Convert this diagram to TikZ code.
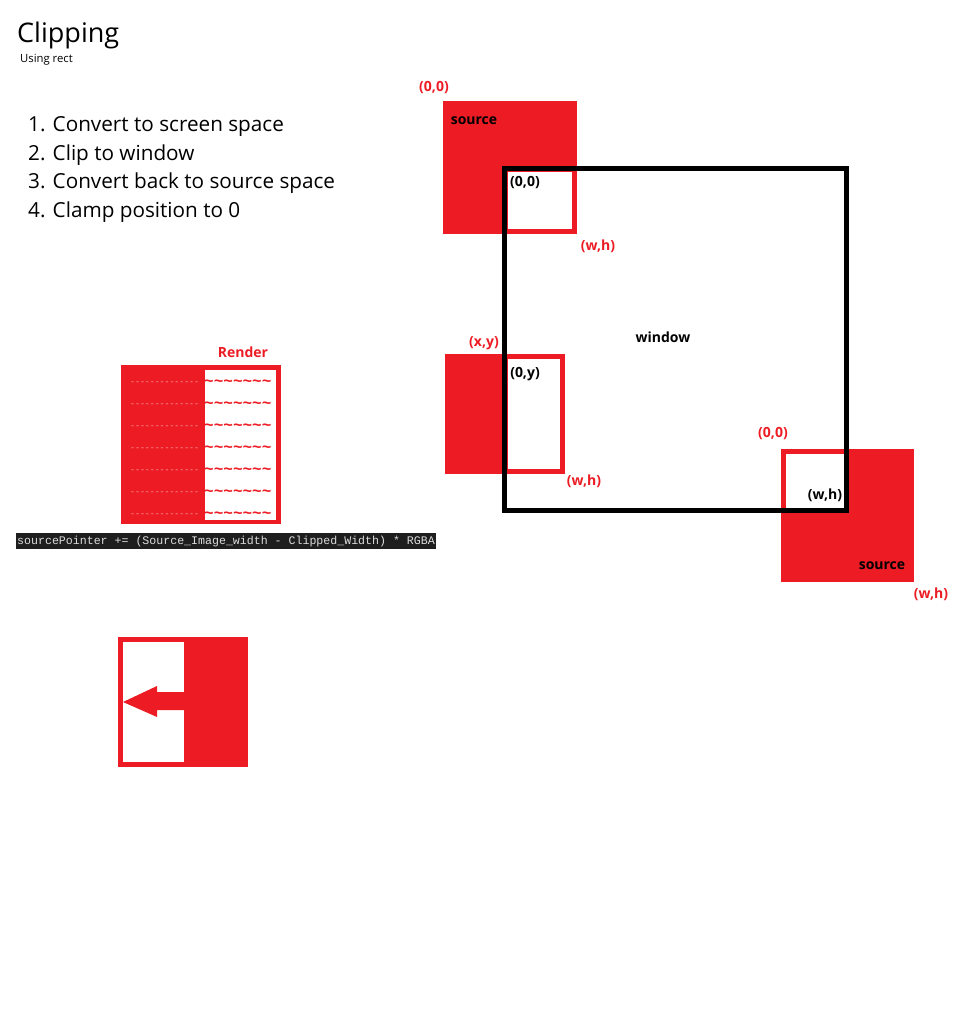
\documentclass[tikz,border=0pt]{standalone}
\usepackage{fontspec}
\setmainfont{Open Sans}
\setmonofont{Liberation Mono}

\begin{document}
\begin{tikzpicture}[x=1pt,y=-1pt,
  redlbl/.style={text=paintRed,font=\fontsize{14}{16}\selectfont\bfseries,inner sep=0pt},
  blklbl/.style={text=black,font=\fontsize{14}{16}\selectfont\bfseries,inner sep=0pt},
  steptext/.style={anchor=base west,inner sep=0pt,font=\fontsize{20.7}{23}\selectfont}]
\definecolor{paintRed}{HTML}{ED1C24}
\definecolor{dashPink}{HTML}{F4A6A9}
\definecolor{codeBg}{HTML}{1E1E1E}
\definecolor{codeFg}{HTML}{DCDCDC}
\useasboundingbox[fill=white] (0,0) rectangle (973,1019);
% title and steps
\node[anchor=base west,inner sep=0pt,font=\fontsize{27}{30}\selectfont] (title) at (17,43) {Clipping};
\node[anchor=base west,inner sep=0pt,font=\fontsize{11.3}{13}\selectfont] (subtitle) at (20,63) {Using rect};
\foreach \n/\yy/\txt in {1/132/Convert to screen space,2/160.5/Clip to window,3/189/Convert back to source space,4/217.5/Clamp position to 0} {
  \node[steptext] (step\n) at (28,\yy) {\n. \txt};
}
% top-left source
\fill[paintRed] (443,101) rectangle (577,234);
\fill[white] (503,167) rectangle (577,234);
\draw[paintRed,line width=5pt] (505,169.5) rectangle (574.5,231.5);
% left source
\fill[paintRed] (445,354) rectangle (565,474);
\fill[white] (503,354) rectangle (565,474);
\draw[paintRed,line width=5pt] (505,356.5) rectangle (562.5,471);
% bottom-right source
\fill[paintRed] (781,449) rectangle (914,582);
\fill[white] (781,449) rectangle (848,512);
\draw[paintRed,line width=5pt] (783.5,451.5) rectangle (846,510);
% window
\draw[black,line width=5pt] (504.5,168.5) rectangle (846.5,510.5);
\node[blklbl] (window) at (663,337) {window};
\node[redlbl] (tlOrigin) at (434,88) {(0,0)};
\node[blklbl] (tlSource) at (474,121) {source};
\node[blklbl] (tlClipOrigin) at (525,183) {(0,0)};
\node[redlbl] (tlSize) at (598,246) {(w,h)};
\node[redlbl] (lPos) at (484,343) {(x,y)};
\node[blklbl] (lClipOrigin) at (525,374) {(0,y)};
\node[redlbl] (lSize) at (584,481) {(w,h)};
\node[redlbl] (brOrigin) at (773,434) {(0,0)};
\node[blklbl] (brClipSize) at (825,495) {(w,h)};
\node[blklbl] (brSource) at (882,566) {source};
\node[redlbl] (brSize) at (931,594) {(w,h)};
% render rows
\fill[paintRed] (121,365) rectangle (281,524);
\fill[white] (205,370) rectangle (276,520);
\node[redlbl] (render) at (243,352) {Render};
\foreach \i in {0,...,6} {
  \node[anchor=west,inner sep=0pt,text=dashPink,font=\ttfamily\fontsize{8.2}{9}\selectfont] (skip\i) at (130,383+22*\i) {-{}-{}-{}-{}-{}-{}-{}-{}-{}-{}-{}-{}-{}-{}};
  \node[anchor=west,inner sep=0pt,text=paintRed,font=\ttfamily\bfseries\fontsize{16}{17}\selectfont] (row\i) at (204,383+22*\i) {\textasciitilde\textasciitilde\textasciitilde\textasciitilde\textasciitilde\textasciitilde\textasciitilde};
}
\fill[codeBg] (16,533) rectangle (436,549);
\node[anchor=base west,inner sep=0pt,text=codeFg,font=\ttfamily\fontsize{11.6}{13}\selectfont] (code) at (17,544.5) {sourcePointer += (Source\_Image\_width - Clipped\_Width) * RGBA};
% shifted block
\fill[paintRed] (118,637) rectangle (248,767);
\fill[white] (123,642) rectangle (184,762);
\fill[paintRed] (184,692) -- (157,692) -- (157,686) -- (123,702) -- (157,717) -- (157,710) -- (184,710) -- cycle;
\end{tikzpicture}
\end{document}
